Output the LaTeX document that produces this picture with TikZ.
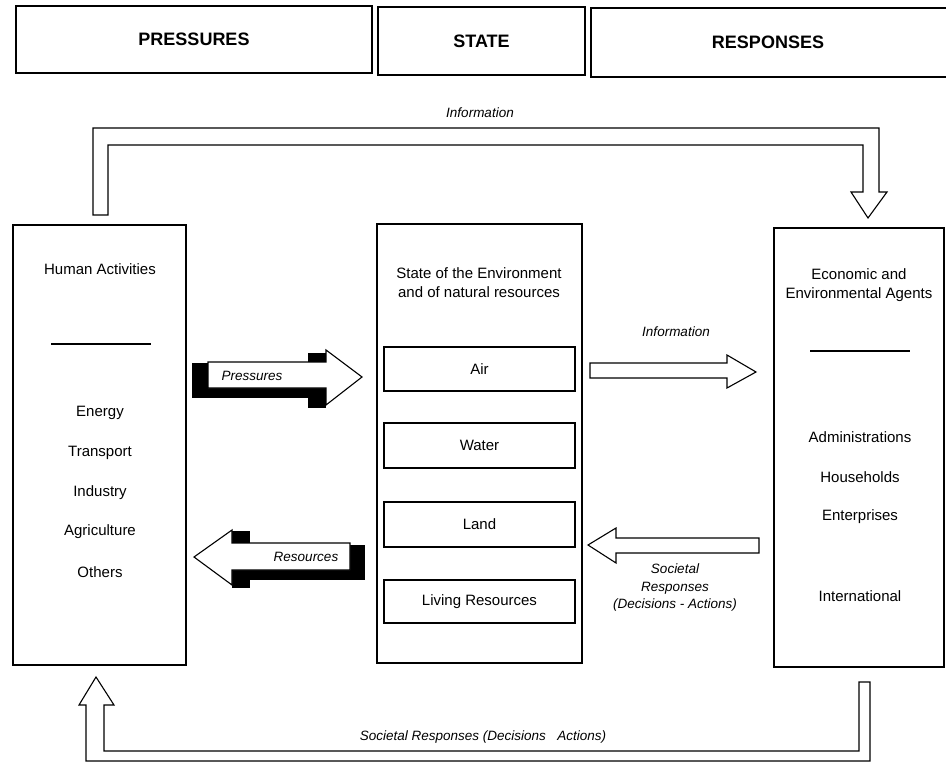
\documentclass[tikz,border=0pt]{standalone}
\usepackage{fontspec}
\setmainfont{Liberation Sans}
\begin{document}
\begin{tikzpicture}[x=1pt,y=-1pt,
  box/.style={draw, line width=1.4pt, inner sep=0pt},
  subbox/.style={box, minimum width=191pt},
  hdr/.style={font=\fontsize{18}{20}\selectfont\bfseries},
  lbl/.style={font=\fontsize{15}{19}\selectfont, align=center, inner sep=0pt},
  itl/.style={font=\fontsize{13.5}{17.5}\selectfont\itshape, align=center, inner sep=0pt},
  rule/.style={line width=2pt},
  blk/.style={draw, line width=1.1pt, fill=white, line join=miter}]
\useasboundingbox (0,0) rectangle (946,765);

% ---- column headers
\node[box, hdr, minimum width=356pt, minimum height=67pt] (hp) at (194,39.5) {PRESSURES};
\node[box, hdr, minimum width=207pt, minimum height=68pt] (hs) at (481.5,41) {STATE};
\draw[line width=1.4pt] (946,8) -- (591,8) -- (591,77) -- (946,77);
\node[hdr] (hr) at (768,42) {RESPONSES};

% ---- three main columns
\node[box, minimum width=173pt, minimum height=440pt] (hum) at (99.5,445) {};
\node[box, minimum width=205pt, minimum height=439pt] (env) at (479.5,443.5) {};
\node[box, minimum width=170pt, minimum height=439pt] (agt) at (859,447.5) {};

% left column
\node[lbl] (hatitle) at (100,269) {Human Activities};
\draw[rule] (51,344) -- (151,344);
\node[lbl] (en) at (100,413) {Energy};
\node[lbl] (tr) at (100,453) {Transport};
\node[lbl] (in) at (100,493) {Industry};
\node[lbl] (ag) at (100,532) {Agriculture};
\node[lbl] (ot) at (100,572) {Others};

% middle column
\node[lbl] (envtitle) at (479,283) {State of the Environment\\and of natural resources};
\node[subbox, minimum height=44pt, lbl] (air) at (479.5,369) {Air};
\node[subbox, minimum height=45pt, lbl] (wat) at (479.5,445.5) {Water};
\node[subbox, minimum height=45pt, lbl] (lan) at (479.5,524.5) {Land};
\node[subbox, minimum height=43pt, lbl] (liv) at (479.5,601.5) {Living Resources};

% right column
\node[lbl] (agttitle) at (859,285) {Economic and\\Environmental Agents};
\draw[rule] (810,351) -- (910,351);
\node[lbl] (adm) at (860,437) {Administrations};
\node[lbl] (hou) at (860,477) {Households};
\node[lbl] (ent) at (860,517) {Enterprises};
\node[lbl] (int) at (860,596) {International};

% ---- Pressures arrow with its black shadow
\fill (192,363) rectangle (326,398);
\fill (308,353) rectangle (326,408);
\draw[blk] (208,362) -- (326,362) -- (326,350) -- (362,377) -- (326,405)
  -- (326,388) -- (208,388) -- cycle;
\node[itl] (plbl) at (252,376) {Pressures};

% ---- Resources arrow with its black shadow
\fill (232,545) rectangle (365,580);
\fill (232,531) rectangle (250,588);
\draw[blk] (350,543) -- (232,543) -- (232,530) -- (194,557) -- (232,585)
  -- (232,570) -- (350,570) -- cycle;
\node[itl] (rlbl) at (306,557) {Resources};

% ---- Information arrow, state -> agents
\draw[blk] (590,363) -- (727,363) -- (727,355) -- (756,372) -- (727,388)
  -- (727,378) -- (590,378) -- cycle;
\node[itl] (ilbl) at (676,332) {Information};

% ---- Societal responses arrow, agents -> state
\draw[blk] (759,538) -- (616,538) -- (616,528) -- (588,545) -- (616,563)
  -- (616,553) -- (759,553) -- cycle;
\node[itl] (slbl) at (675,588) {Societal\\Responses\\(Decisions - Actions)};

% ---- Information loop, human activities -> agents (over the top)
\draw[blk] (93,215) -- (93,128) -- (879,128) -- (879,192) -- (887,192)
  -- (868,218) -- (851,192) -- (863,192) -- (863,145) -- (108,145)
  -- (108,215) -- cycle;
\node[itl] (toplbl) at (480,113) {Information};

% ---- Societal responses loop, agents -> human activities (underneath)
\draw[blk] (104,705) -- (104,751) -- (859,751) -- (859,682) -- (870,682)
  -- (870,761) -- (86,761) -- (86,705) -- (79,705) -- (96,677)
  -- (114,705) -- cycle;
\node[itl] (botlbl) at (483,737) {Societal Responses (Decisions \ \ Actions)};
\end{tikzpicture}
\end{document}
